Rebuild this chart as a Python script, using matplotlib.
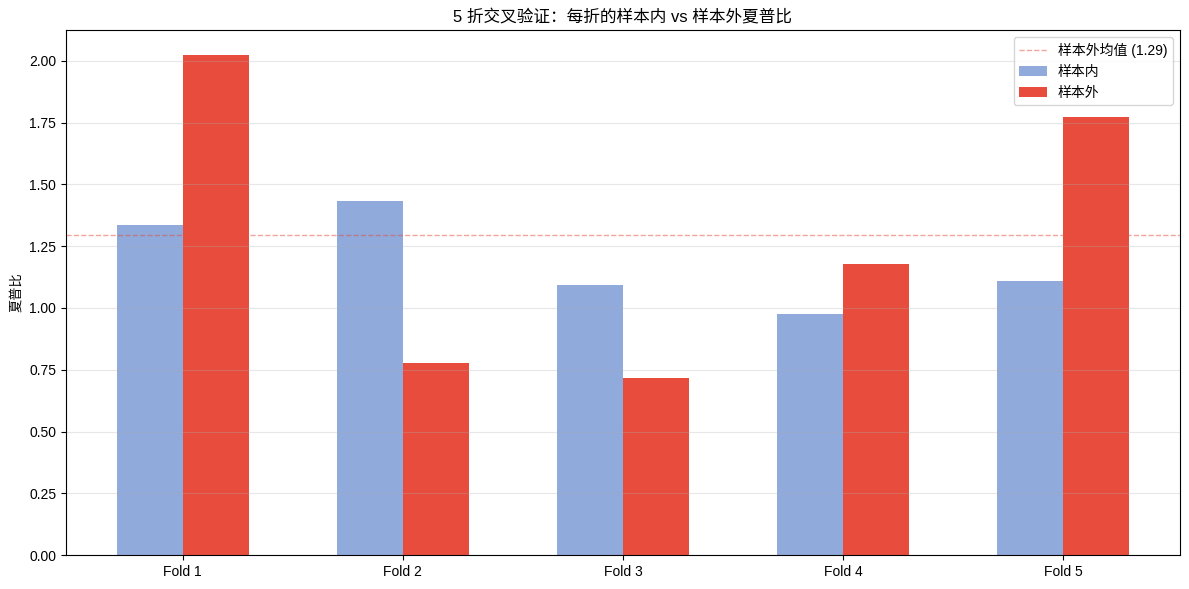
import numpy as np
import matplotlib
matplotlib.use('Agg')
import matplotlib.pyplot as plt

plt.rcParams['font.family'] = ['Liberation Sans', 'Noto Sans CJK SC', 'DejaVu Sans']

folds = ['Fold 1', 'Fold 2', 'Fold 3', 'Fold 4', 'Fold 5']
in_sample = [1.336, 1.433, 1.093, 0.976, 1.109]
out_sample = [2.024, 0.777, 0.717, 1.178, 1.773]
oos_mean = np.mean(out_sample)

x = np.arange(len(folds))
w = 0.3

fig, ax = plt.subplots(figsize=(11.89, 5.89), dpi=100)
ax.bar(x - w/2, in_sample, w, color='#4472c4', alpha=0.6, label='样本内')
ax.bar(x + w/2, out_sample, w, color='#e74c3c', label='样本外')
ax.axhline(oos_mean, color='#e74c3c', ls='--', lw=1, alpha=0.5,
           label='样本外均值 ({:.2f})'.format(oos_mean))

ax.set_xticks(x)
ax.set_xticklabels(folds)
ax.set_ylabel('夏普比', fontsize=9.5)
ax.set_title('5 折交叉验证：每折的样本内 vs 样本外夏普比')
ax.grid(axis='y', alpha=0.3)
ax.legend(loc='upper right')

fig.subplots_adjust(left=0.0555, right=0.9924, top=0.949, bottom=0.0577)
plt.savefig('out.png')
